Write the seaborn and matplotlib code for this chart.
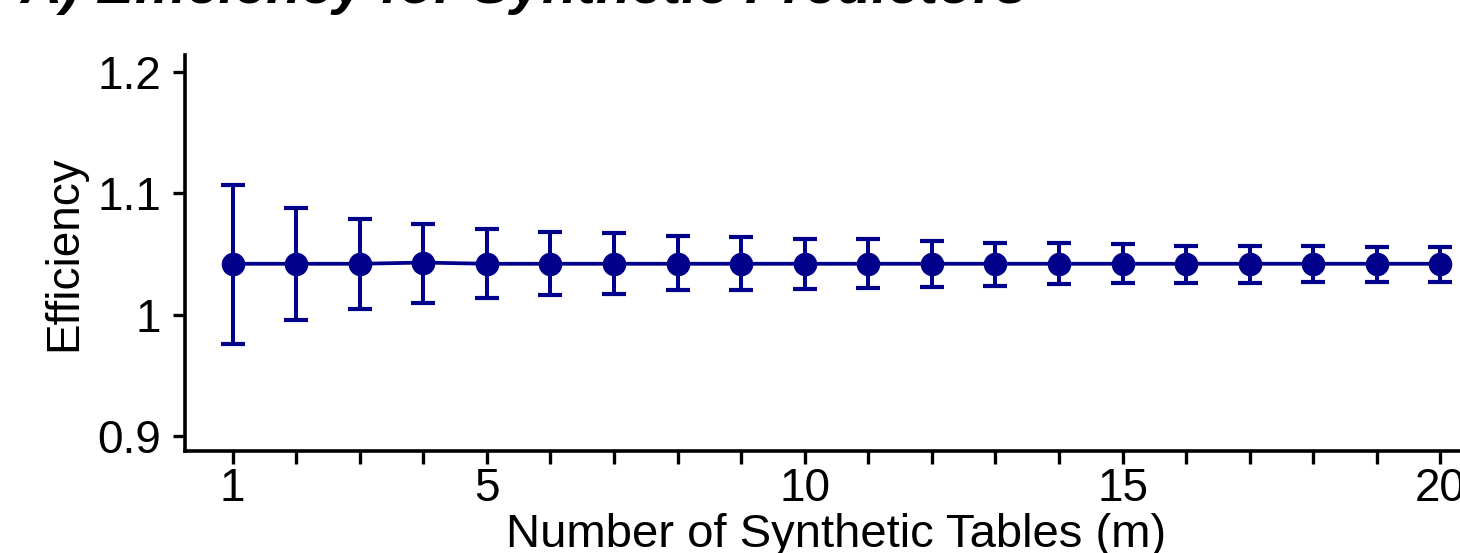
import matplotlib
matplotlib.use("Agg")
import matplotlib.pyplot as plt
import seaborn as sns
import pandas as pd

# Efficiency estimate and interval bounds for each number of synthetic tables
m_tables = list(range(1, 21))
efficiency = [1.042, 1.042, 1.042, 1.043, 1.042, 1.042, 1.042, 1.042, 1.042, 1.042,
              1.042, 1.042, 1.042, 1.042, 1.042, 1.042, 1.042, 1.042, 1.042, 1.042]
upper = [1.107, 1.088, 1.079, 1.075, 1.071, 1.068, 1.067, 1.065, 1.064, 1.062,
         1.062, 1.061, 1.059, 1.059, 1.058, 1.057, 1.057, 1.057, 1.056, 1.056]
lower = [0.976, 0.996, 1.005, 1.010, 1.014, 1.016, 1.017, 1.020, 1.020, 1.021,
         1.022, 1.023, 1.024, 1.025, 1.026, 1.026, 1.026, 1.027, 1.027, 1.027]
x_ticks = [1, 5, 10, 15, 20]
y_ticks = [0.9, 1.0, 1.1, 1.2]
y_tick_labels = ["0.9", "1", "1.1", "1.2"]

df = pd.DataFrame({"m": m_tables, "eff": efficiency, "lo": lower, "hi": upper})

sns.set_theme(style="ticks")
plt.rcParams["font.family"] = ["Liberation Sans", "DejaVu Sans"]
plt.rcParams["text.color"] = "black"
plt.rcParams["axes.labelcolor"] = "black"

W, H, DPI = 1460, 553, 100
fig = plt.figure(figsize=(W / DPI, H / DPI), dpi=DPI)
fig.patch.set_facecolor("white")

left_px, right_px, top_px, bottom_px = 185, 1488, 55, 450.7
ax = fig.add_axes([left_px / W, 1 - bottom_px / H,
                   (right_px - left_px) / W, (bottom_px - top_px) / H])

navy = "#00008B"
ax.errorbar(df["m"], df["eff"],
            yerr=[df["eff"] - df["lo"], df["hi"] - df["eff"]],
            fmt="none", ecolor=navy, elinewidth=2.9, capsize=8.5, capthick=3.0,
            zorder=2)
sns.lineplot(data=df, x="m", y="eff", ax=ax, color=navy, linewidth=2.7,
             marker="o", markersize=17, markeredgewidth=0, zorder=3)

ax.set_xlim(0.25, 20.75)
ax.set_ylim(0.888, 1.214)
ax.set_xticks(m_tables)
ax.set_xticklabels([str(v) if v in x_ticks else "" for v in m_tables])
ax.set_yticks(y_ticks)
ax.set_yticklabels(y_tick_labels)

ax.set_xlabel("Number of Synthetic Tables (m)", fontsize=34, labelpad=1,
              color="black")
ax.set_ylabel("Efficiency", fontsize=33, labelpad=8, color="black")

sns.despine(ax=ax)
for side in ("left", "bottom"):
    ax.spines[side].set_linewidth(2.6)
    ax.spines[side].set_color("black")
ax.tick_params(axis="both", which="major", length=9, width=2.4, colors="black",
               labelsize=33)
ax.tick_params(axis="y", pad=8)
ax.tick_params(axis="x", pad=3)

fig.text(20 / W, 1 - 3 / H, "A) Efficiency for Synthetic Predictors",
         fontsize=41, fontweight="bold", fontstyle="italic", color="black",
         ha="left", va="baseline")

fig.savefig("out.png", dpi=DPI, facecolor="white")
